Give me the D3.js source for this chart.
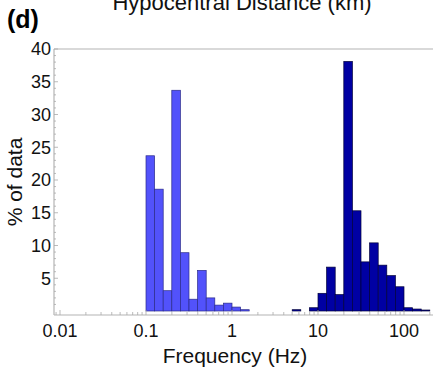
<!DOCTYPE html>
<html>
<head>
<meta charset="utf-8">
<script src="https://cdn.jsdelivr.net/npm/d3@7"></script>
<style>
  html, body { margin: 0; padding: 0; background: #fff; }
  svg { display: block; font-family: "Liberation Sans", Arial, sans-serif; }
</style>
</head>
<body>
<div id="chart"></div>
<script>
/* =========================
   Data
========================= */
// bin edges are log10(frequency), 0.1 decade wide
const lowBinStart = [-1.0, -0.9, -0.8, -0.7, -0.6, -0.5, -0.4, -0.3, -0.2, -0.1, 0.0, 0.1];
const lowPercent  = [23.7, 18.6, 3.1, 33.7, 8.9, 1.8, 6.2, 2.0, 0.9, 1.2, 0.6, 0.2];

const highBinStart = [0.7, 0.9, 1.0, 1.1, 1.2, 1.3, 1.4, 1.5, 1.6, 1.7, 1.8, 1.9, 2.0, 2.1, 2.2];
const highPercent  = [0.2, 0.5, 2.7, 6.7, 2.5, 38.1, 15.3, 7.5, 10.4, 7.0, 5.4, 3.7, 0.5, 0.3, 0.15];
const binWidth = 0.1;

const xTickValues = [0.01, 0.1, 1, 10, 100];
const xTickLabels = ["0.01", "0.1", "1", "10", "100"];
const yTickValues = [5, 10, 15, 20, 25, 30, 35, 40];

const titleText = "Hypocentral Distance (km)";
const panelLabel = "(d)";
const xLabel = "Frequency (Hz)";
const yLabel = "% of data";

/* =========================
   Layout
========================= */
const W = 434, H = 371;
const frame = { left: 54, right: 433, top: 49, bottom: 315 };

const svg = d3.select("#chart").append("svg")
    .attr("width", W)
    .attr("height", H);

const x = d3.scaleLog()
    .domain([0.01, 100])
    .range([60, 404]);

const y = d3.scaleLinear()
    .domain([0, 40])
    .range([311, 49]);

/* =========================
   Bars
========================= */
function drawBars(starts, values, fill, stroke) {
    const rows = starts.map((s, i) => ({ s, v: values[i] }));
    svg.append("g")
        .selectAll("rect")
        .data(rows)
        .join("rect")
        .attr("x", d => x(Math.pow(10, d.s)))
        .attr("width", d => x(Math.pow(10, d.s + binWidth)) - x(Math.pow(10, d.s)))
        .attr("y", d => y(d.v))
        .attr("height", d => y(0) - y(d.v))
        .attr("fill", fill)
        .attr("stroke", stroke)
        .attr("stroke-width", 0.7);
}

drawBars(lowBinStart, lowPercent, "#5252fb", "#2b2b8a");
drawBars(highBinStart, highPercent, "#0000a3", "#00003a");

/* =========================
   Frame + ticks
========================= */
const frameColor = "#b4b4b4";
const fg = svg.append("g").attr("stroke", frameColor).attr("stroke-width", 1.2).attr("fill", "none");

fg.append("line").attr("x1", frame.left).attr("x2", frame.right).attr("y1", frame.bottom).attr("y2", frame.bottom);
fg.append("line").attr("x1", frame.left).attr("x2", frame.right).attr("y1", frame.top).attr("y2", frame.top);
fg.append("line").attr("x1", frame.left).attr("x2", frame.left).attr("y1", frame.top).attr("y2", frame.bottom);

// minor log ticks along the bottom
const xMinor = [];
for (let k = -3; k <= 2; k++) {
    for (let m = 1; m <= 9; m++) {
        const v = m * Math.pow(10, k);
        const px = x(v);
        if (px > frame.left + 1 && px < frame.right) xMinor.push(v);
    }
}
svg.append("g")
    .selectAll("line")
    .data(xMinor)
    .join("line")
    .attr("x1", d => x(d)).attr("x2", d => x(d))
    .attr("y1", frame.bottom)
    .attr("y2", d => xTickValues.includes(d) ? frame.bottom - 5 : frame.bottom - 3)
    .attr("stroke", "#aaa")
    .attr("stroke-width", 0.8);

// y ticks every 1 %
const yMinor = d3.range(1, 41);
svg.append("g")
    .selectAll("line")
    .data(yMinor)
    .join("line")
    .attr("x1", frame.left)
    .attr("x2", d => d % 5 === 0 ? frame.left + 4 : frame.left + 2)
    .attr("y1", d => y(d)).attr("y2", d => y(d))
    .attr("stroke", "#aaa")
    .attr("stroke-width", 0.8);

/* =========================
   Tick labels
========================= */
svg.append("g")
    .selectAll("text")
    .data(xTickValues)
    .join("text")
    .attr("x", d => x(d))
    .attr("y", 337)
    .attr("text-anchor", "middle")
    .attr("font-size", 18)
    .attr("fill", "#111")
    .text((d, i) => xTickLabels[i]);

svg.append("g")
    .selectAll("text")
    .data(yTickValues)
    .join("text")
    .attr("x", frame.left - 3)
    .attr("y", d => y(d))
    .attr("dy", "0.36em")
    .attr("text-anchor", "end")
    .attr("font-size", 18)
    .attr("fill", "#111")
    .text(d => d);

/* =========================
   Titles
========================= */
svg.append("text")
    .attr("x", 242).attr("y", 10)
    .attr("text-anchor", "middle")
    .attr("font-size", 22)
    .attr("fill", "#111")
    .text(titleText);

svg.append("text")
    .attr("x", 7).attr("y", 28)
    .attr("font-size", 25)
    .attr("font-weight", "bold")
    .attr("fill", "#000")
    .text(panelLabel);

svg.append("text")
    .attr("x", 235).attr("y", 363)
    .attr("text-anchor", "middle")
    .attr("font-size", 21)
    .attr("fill", "#111")
    .text(xLabel);

svg.append("text")
    .attr("transform", "translate(22,182) rotate(-90)")
    .attr("text-anchor", "middle")
    .attr("font-size", 21)
    .attr("fill", "#111")
    .text(yLabel);
</script>
</body>
</html>
